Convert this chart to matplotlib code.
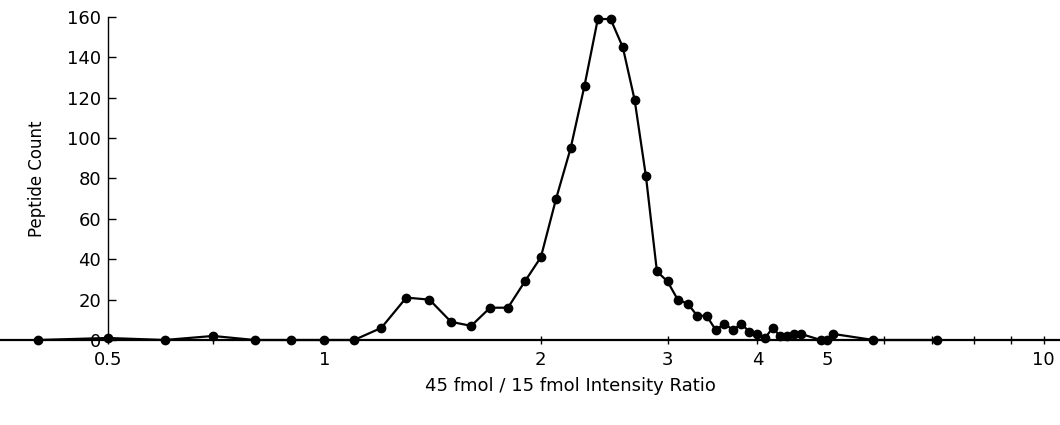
import matplotlib.pyplot as plt
from matplotlib.ticker import FixedLocator, NullFormatter, FixedFormatter

# histogram bins (intensity ratio) and peptide counts
ratio = [0.4, 0.5, 0.6, 0.7, 0.8, 0.9, 1.0, 1.1, 1.2, 1.3, 1.4, 1.5, 1.6, 1.7,
         1.8, 1.9, 2.0, 2.1, 2.2, 2.3, 2.4, 2.5, 2.6, 2.7, 2.8, 2.9, 3.0, 3.1,
         3.2, 3.3, 3.4, 3.5, 3.6, 3.7, 3.8, 3.9, 4.0, 4.1, 4.2, 4.3, 4.4, 4.5,
         4.6, 4.9, 5.0, 5.1, 5.8, 7.1]
count = [0, 1, 0, 2, 0, 0, 0, 0, 6, 21, 20, 9, 7, 16, 16, 29, 41, 70, 95, 126,
         159, 159, 145, 119, 81, 34, 29, 20, 18, 12, 12, 5, 8, 5, 8, 4, 3, 1,
         6, 2, 2, 3, 3, 0, 0, 3, 0, 0]

major_ticks = [0.5, 1, 2, 3, 4, 5, 10]
major_labels = ['0.5', '1', '2', '3', '4', '5', '10']
minor_ticks = [0.6, 0.7, 0.8, 0.9, 6, 7, 8, 9]
y_ticks = [0, 20, 40, 60, 80, 100, 120, 140, 160]

fig = plt.figure(figsize=(10.6, 4.25), dpi=100)
ax = fig.add_axes([0, 0.2, 1, 0.76])

ax.plot(ratio, count, color='black', lw=1.6, marker='o', ms=6, clip_on=False, zorder=3)

ax.set_xscale('log')
ax.set_xlim(0.354, 10.54)
ax.set_ylim(0, 160)

ax.spines['top'].set_visible(False)
ax.spines['right'].set_visible(False)
ax.spines['left'].set_position(('data', 0.5))
ax.spines['left'].set_linewidth(1.0)
ax.spines['bottom'].set_linewidth(1.6)

ax.xaxis.set_major_locator(FixedLocator(major_ticks))
ax.xaxis.set_major_formatter(FixedFormatter(major_labels))
ax.xaxis.set_minor_locator(FixedLocator(minor_ticks))
ax.xaxis.set_minor_formatter(NullFormatter())
ax.tick_params(axis='x', which='both', direction='inout', length=6, width=1, labelsize=13, pad=5)
ax.set_yticks(y_ticks)
ax.tick_params(axis='y', direction='in', length=6, width=1, labelsize=13, pad=5)

ax.set_xlabel('45 fmol / 15 fmol Intensity Ratio', fontsize=13)
ax.xaxis.set_label_coords(0.538, -0.115)
ax.set_ylabel('Peptide Count', fontsize=12)
ax.yaxis.set_label_coords(0.043, 0.5)

fig.savefig('out.png')
